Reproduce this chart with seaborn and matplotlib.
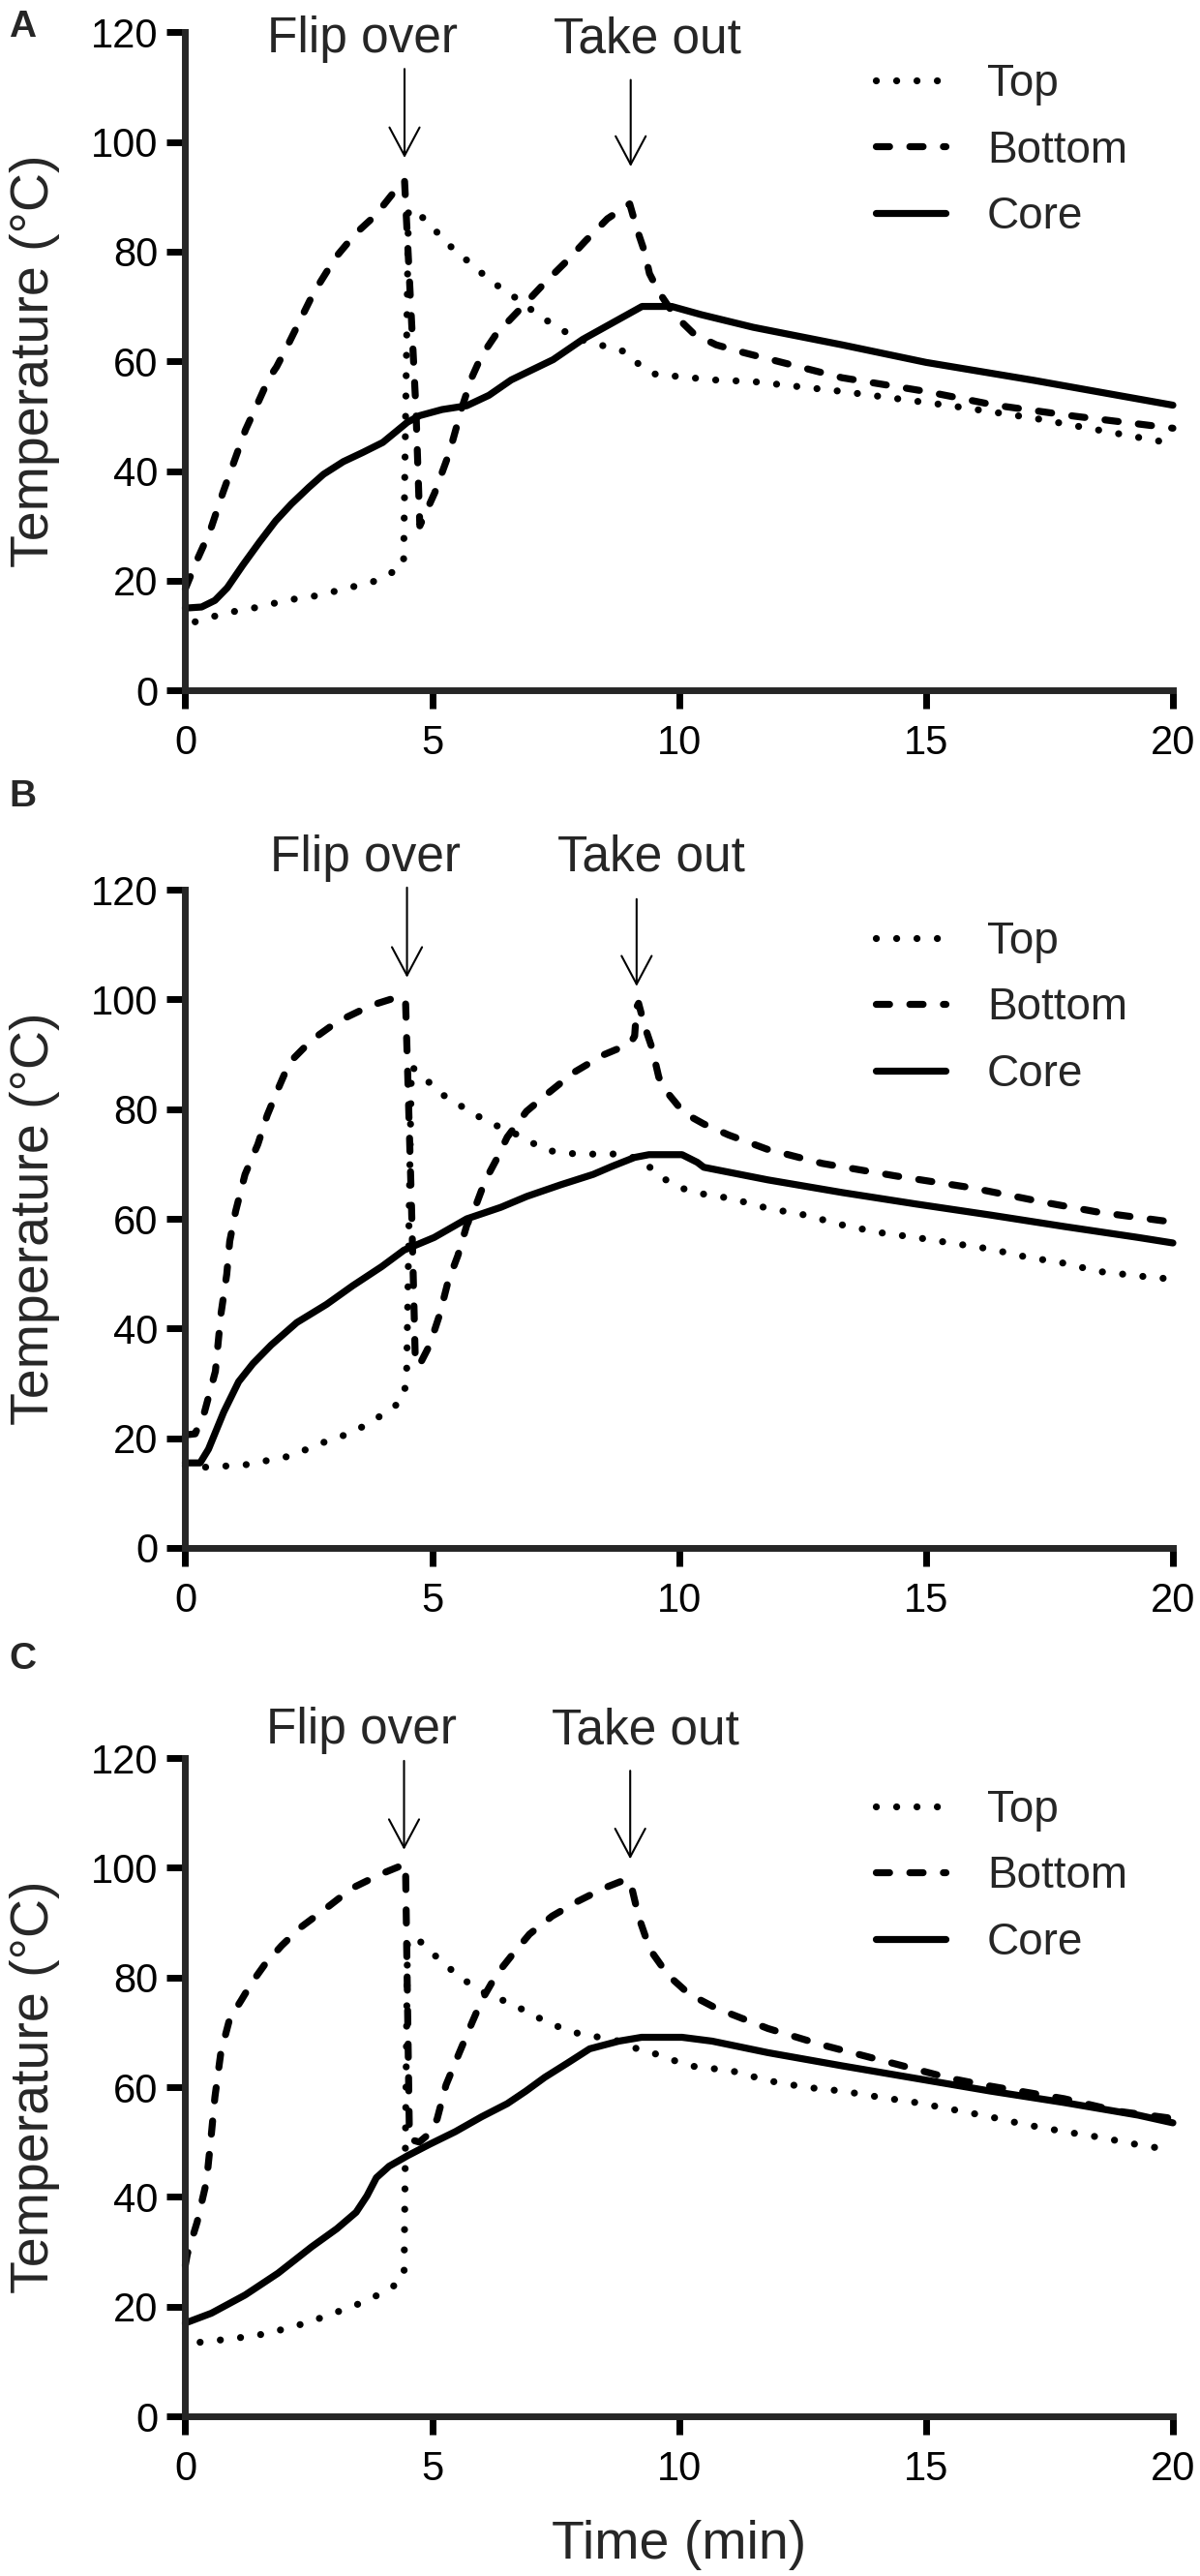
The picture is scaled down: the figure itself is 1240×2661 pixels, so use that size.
import matplotlib
matplotlib.use("Agg")
import matplotlib.pyplot as plt
import pandas as pd
import seaborn as sns

POSITIONS = ["Top", "Bottom", "Core"]
PANEL_LETTERS = ["A", "B", "C"]
X_TICKS = [0, 5, 10, 15, 20]
Y_TICKS = [0, 20, 40, 60, 80, 100, 120]

# panel A
A_TOP_TIME = [0.2, 0.7, 1.1, 1.5, 1.9, 2.3, 2.7, 3.0, 3.4, 3.8, 4.15, 4.42, 4.52, 4.72, 5.05, 5.3,
              5.6, 5.9, 6.2, 6.55, 7.2, 7.8, 8.2, 8.6, 8.95, 9.2, 9.55, 9.9, 10.7, 11.5, 13.3, 15.5,
              17.2, 19.5, 20.0]
A_TOP_TEMP = [12.5, 13.8, 14.6, 15.2, 16.1, 16.8, 17.3, 18.0, 18.9, 19.8, 21.3, 22.8, 87.7, 87.0, 84.0, 81.5,
              79.2, 76.9, 74.5, 72.5, 68.1, 64.8, 63.3, 62.6, 61.6, 59.3, 57.5, 57.3, 56.6, 56.3, 54.5, 51.9,
              49.6, 45.8, 45.0]
A_BOTTOM_TIME = [0.0, 0.25, 0.5, 0.76, 1.0, 1.22, 1.5, 1.7, 1.85, 2.08, 2.6, 3.05, 3.45, 3.85, 4.3, 4.44,
                 4.52, 4.67, 4.75, 5.05, 5.35, 5.6, 5.8, 6.0, 6.3, 6.8, 7.3, 7.75, 8.1, 8.55, 9.0, 9.15,
                 9.3, 9.4, 9.6, 9.9, 10.3, 10.75, 11.3, 13.3, 15.0, 16.4, 18.0, 20.0]
A_BOTTOM_TEMP = [18.5, 24.0, 29.0, 36.0, 42.0, 47.5, 53.0, 57.0, 59.0, 63.0, 72.5, 79.0, 83.3, 86.6, 91.7, 93.0,
                 78.5, 51.5, 30.0, 36.0, 43.4, 51.5, 57.0, 61.0, 65.0, 69.7, 74.5, 78.5, 81.9, 86.0, 88.7, 84.0,
                 80.0, 76.0, 72.5, 68.5, 65.0, 63.0, 61.6, 57.0, 54.5, 52.0, 50.0, 47.8]
A_CORE_TIME = [0.0, 0.33, 0.6, 0.85, 1.17, 1.5, 1.83, 2.15, 2.5, 2.8, 3.2, 3.6, 4.0, 4.5, 4.75, 5.2,
               5.7, 6.15, 6.6, 7.45, 8.05, 8.65, 9.25, 9.85, 10.45, 11.5, 13.3, 15.0, 17.2, 20.0]
A_CORE_TEMP = [15.0, 15.2, 16.4, 18.7, 22.9, 27.0, 30.9, 34.0, 37.0, 39.4, 41.7, 43.4, 45.2, 48.9, 50.1, 51.2,
               51.9, 53.8, 56.6, 60.3, 64.0, 67.0, 70.0, 70.0, 68.5, 66.2, 63.0, 59.8, 56.5, 52.0]

# panel B
B_TOP_TIME = [0.0, 0.45, 1.25, 2.15, 2.67, 3.03, 3.38, 3.72, 4.09, 4.39, 4.48, 4.58, 4.91, 5.2, 5.56, 5.89,
              6.22, 6.6, 6.94, 7.28, 7.7, 8.07, 8.44, 8.82, 9.27, 9.56, 9.91, 10.3, 11.06, 11.8, 12.55, 13.3,
              14.05, 14.8, 15.5, 16.3, 17.0, 17.8, 18.5, 19.5, 20.0]
B_TOP_TEMP = [15.0, 14.7, 15.2, 16.8, 18.8, 20.0, 21.0, 22.8, 24.8, 26.9, 30.3, 87.8, 85.1, 82.7, 80.7, 78.9,
              77.3, 75.9, 74.3, 72.6, 71.9, 71.9, 71.7, 71.9, 70.6, 68.1, 66.1, 64.8, 63.7, 61.9, 60.7, 58.9,
              57.5, 56.6, 55.6, 54.5, 53.1, 51.9, 50.4, 49.4, 49.0]
B_BOTTOM_TIME = [0.0, 0.2, 0.39, 0.61, 0.72, 0.84, 0.9, 1.02, 1.21, 1.47, 1.66, 1.88, 2.11, 2.56, 3.07, 3.76,
                 4.29, 4.46, 4.5, 4.58, 4.66, 4.74, 4.95, 5.15, 5.32, 5.52, 5.7, 5.9, 6.07, 6.3, 6.52, 6.91,
                 7.36, 7.87, 8.47, 9.0, 9.1, 9.14, 9.18, 9.3, 9.45, 9.59, 9.8, 10.1, 10.5, 11.0, 11.78, 12.9,
                 14.4, 15.9, 17.4, 18.5, 20.0]
B_BOTTOM_TEMP = [20.6, 20.8, 24.8, 32.2, 42.5, 49.9, 55.9, 61.4, 68.1, 73.6, 78.9, 83.7, 88.5, 92.6, 95.9, 98.9,
                 100.4, 100.0, 87.8, 62.8, 33.6, 33.3, 37.0, 42.5, 48.5, 53.3, 58.8, 62.8, 66.9, 70.8, 74.9, 79.6,
                 83.0, 86.7, 89.9, 91.9, 93.3, 98.6, 99.3, 95.2, 91.2, 85.8, 82.6, 79.3, 77.3, 75.3, 72.7, 70.1,
                 67.8, 65.7, 63.0, 61.2, 59.4]
B_CORE_TIME = [0.0, 0.3, 0.47, 0.78, 1.08, 1.37, 1.74, 2.26, 2.86, 3.39, 3.98, 4.43, 5.04, 5.7, 6.39, 6.92,
               7.6, 8.26, 8.65, 9.1, 9.39, 10.06, 10.37, 10.5, 11.8, 13.3, 14.8, 16.3, 17.8, 19.3, 20.0]
B_CORE_TEMP = [15.5, 15.5, 18.0, 24.8, 30.3, 33.6, 37.0, 41.1, 44.4, 47.8, 51.3, 54.3, 56.6, 60.0, 62.1, 64.1,
               66.2, 68.1, 69.6, 71.2, 71.7, 71.7, 70.3, 69.4, 67.1, 64.8, 62.7, 60.7, 58.6, 56.6, 55.6]

# panel C
C_TOP_TIME = [0.3, 1.0, 1.6, 2.0, 2.4, 2.7, 3.07, 3.46, 3.83, 4.16, 4.43, 4.5, 4.65, 4.95, 5.24, 5.55,
              5.88, 6.21, 6.58, 6.92, 7.28, 7.64, 8.03, 8.4, 8.78, 9.15, 9.55, 9.92, 10.3, 11.06, 11.8, 12.55,
              13.3, 14.05, 14.8, 15.5, 16.3, 17.0, 17.8, 18.5, 19.3, 20.0]
C_TOP_TEMP = [13.5, 14.2, 15.0, 15.9, 16.9, 17.8, 19.0, 20.3, 21.8, 23.3, 25.4, 86.5, 87.5, 84.9, 82.5, 80.2,
              78.1, 76.5, 75.4, 73.7, 72.1, 70.7, 69.6, 69.1, 68.4, 67.0, 66.0, 64.8, 63.8, 63.0, 61.2, 60.0,
              59.3, 58.2, 57.2, 56.0, 54.6, 53.2, 51.9, 50.9, 49.5, 48.5]
C_BOTTOM_TIME = [0.0, 0.04, 0.24, 0.43, 0.53, 0.6, 0.72, 0.9, 1.13, 1.35, 1.62, 1.95, 2.33, 2.85, 3.38, 3.97,
                 4.46, 4.54, 4.74, 4.95, 5.1, 5.28, 5.55, 5.77, 6.0, 6.3, 6.6, 6.97, 7.43, 7.95, 8.48, 8.93,
                 9.02, 9.18, 9.41, 9.78, 10.2, 10.75, 11.8, 12.9, 14.4, 15.5, 16.3, 17.8, 18.9, 20.0]
C_BOTTOM_TEMP = [27.5, 29.5, 35.4, 42.8, 51.6, 58.2, 66.3, 72.5, 75.8, 79.1, 82.5, 85.8, 89.1, 92.6, 96.3, 98.9,
                 100.7, 50.5, 50.0, 51.6, 54.2, 60.4, 66.3, 71.0, 75.8, 80.5, 83.9, 87.9, 91.2, 93.9, 96.3, 97.9,
                 97.2, 91.1, 85.1, 80.4, 77.0, 74.4, 70.7, 67.7, 64.2, 61.6, 60.2, 57.9, 55.6, 54.3]
C_CORE_TIME = [0.0, 0.53, 1.21, 1.88, 2.56, 3.07, 3.46, 3.68, 3.87, 4.13, 4.5, 4.95, 5.47, 6.0, 6.52, 6.9,
               7.28, 7.74, 8.19, 8.78, 9.24, 10.06, 10.67, 11.8, 13.3, 14.8, 16.3, 17.8, 19.3, 20.0]
C_CORE_TEMP = [17.0, 18.8, 22.1, 26.1, 30.9, 34.2, 37.2, 40.2, 43.5, 45.6, 47.5, 49.6, 51.9, 54.6, 57.0, 59.3,
               61.8, 64.4, 67.0, 68.4, 69.1, 69.1, 68.4, 66.3, 63.9, 61.6, 59.3, 57.2, 54.9, 53.5]

SERIES = {
    "A": [(A_TOP_TIME, A_TOP_TEMP), (A_BOTTOM_TIME, A_BOTTOM_TEMP), (A_CORE_TIME, A_CORE_TEMP)],
    "B": [(B_TOP_TIME, B_TOP_TEMP), (B_BOTTOM_TIME, B_BOTTOM_TEMP), (B_CORE_TIME, B_CORE_TEMP)],
    "C": [(C_TOP_TIME, C_TOP_TEMP), (C_BOTTOM_TIME, C_BOTTOM_TEMP), (C_CORE_TIME, C_CORE_TEMP)],
}

# event labels / arrows: (text x, text baseline y, arrow x, arrow tail y, arrow tip y)
EVENTS = {
    "A": [("Flip over", 3.58, 116.3, 4.44, 113.3, 97.1), ("Take out", 9.36, 116.3, 9.02, 111.3, 95.5)],
    "B": [("Flip over", 3.64, 123.4, 4.49, 120.4, 104.0), ("Take out", 9.44, 123.4, 9.14, 118.3, 102.4)],
    "C": [("Flip over", 3.56, 122.6, 4.43, 119.5, 103.3), ("Take out", 9.32, 122.6, 9.01, 117.7, 101.6)],
}

DASHES = {"Top": (0.01, 2.9), "Bottom": (1.9, 2.9), "Core": ""}
AX_BOTTOMS = {"A": 0.7320, "B": 0.3991, "C": 0.0620}
LETTER_Y = {"A": 0.9895, "B": 0.6907, "C": 0.3560}


def long_frame(series):
    frames = []
    for name, (t, temp) in zip(POSITIONS, series):
        frames.append(pd.DataFrame({"time": t, "temp": temp, "position": name}))
    return pd.concat(frames, ignore_index=True)


sns.set_style("ticks")
plt.rcParams["font.family"] = ["Liberation Sans", "DejaVu Sans"]

fig = plt.figure(figsize=(12.4, 26.61), dpi=100)

for letter in PANEL_LETTERS:
    ax = fig.add_axes([0.1544, AX_BOTTOMS[letter], 0.823, 0.2555])
    df = long_frame(SERIES[letter])
    sns.lineplot(data=df, x="time", y="temp", style="position", style_order=POSITIONS,
                 dashes=DASHES, color="black", linewidth=5.2, sort=False, estimator=None,
                 legend=False, dash_capstyle="round", clip_on=False, ax=ax)

    ax.set_xlim(0, 20)
    ax.set_ylim(0, 120)
    ax.set_xticks(X_TICKS)
    ax.set_yticks(Y_TICKS)
    sns.despine(ax=ax)
    for side in ["left", "bottom"]:
        ax.spines[side].set_linewidth(5)
    ax.tick_params(width=5, length=14, labelsize=30, colors="black")
    ax.tick_params(axis="x", pad=11)
    ax.tick_params(axis="y", pad=6)

    ax.set_ylabel("Temperature (°C)", fontsize=40)
    ax.yaxis.set_label_coords(-0.127, 0.5)
    if letter == "C":
        ax.set_xlabel("Time (min)", fontsize=40)
        ax.xaxis.set_label_coords(0.5, -0.158)
    else:
        ax.set_xlabel("")

    handles = ax.get_lines()[:3]
    ax.legend(handles, POSITIONS, loc="upper left", bbox_to_anchor=(0.699, 0.953),
              frameon=False, fontsize=33, handlelength=1.57, handletextpad=0.94,
              labelspacing=0.53, borderpad=0, borderaxespad=0)

    for label, tx, ty, ax_x, tail, tip in EVENTS[letter]:
        ax.text(tx, ty, label, ha="center", va="baseline", fontsize=37, clip_on=False)
        ax.annotate("", xy=(ax_x, tip), xytext=(ax_x, tail), annotation_clip=False,
                    arrowprops=dict(arrowstyle="->,head_length=1.05,head_width=0.56", lw=1.5,
                                    color="black", mutation_scale=20, shrinkA=0, shrinkB=0))

    fig.text(0.019, LETTER_Y[letter], letter, fontsize=28, fontweight="bold",
             ha="center", va="center")

fig.savefig("out.png", dpi=100, facecolor="white")
